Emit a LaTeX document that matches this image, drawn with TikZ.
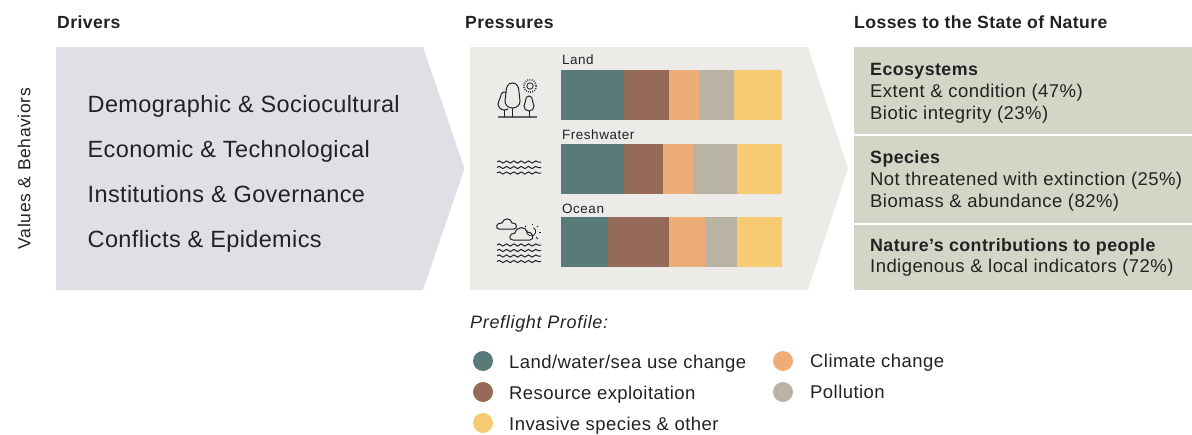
\documentclass[tikz,border=0pt]{standalone}
\usepackage{fontspec}
\setmainfont{Liberation Sans}
\usepackage{xcolor}
\definecolor{landuse}{HTML}{587B7A}
\definecolor{resource}{HTML}{966A58}
\definecolor{climate}{HTML}{EEAC78}
\definecolor{pollution}{HTML}{B9B3A3}
\definecolor{invasive}{HTML}{F6CB72}
\definecolor{driverbg}{HTML}{DFE0E5}
\definecolor{pressurebg}{HTML}{ECEBE7}
\definecolor{lossbg}{HTML}{D3D6C7}
\definecolor{ink}{HTML}{222222}
\usetikzlibrary{decorations.pathmorphing}
\newfontfamily\spacedA[LetterSpace=1.6]{Liberation Sans}
\newfontfamily\spacedB[LetterSpace=2.4]{Liberation Sans}
\newfontfamily\spacedC[LetterSpace=3.8]{Liberation Sans}
\tikzset{
  head/.style={anchor=base west,inner sep=0pt,text=ink,font=\fontsize{17.6}{20}\spacedB\bfseries},
  driver/.style={anchor=base west,inner sep=0pt,text=ink,font=\fontsize{23.5}{28}\spacedA},
  barlabel/.style={anchor=base west,inner sep=0pt,text=ink,font=\fontsize{13.5}{16}\spacedC},
  loss/.style={anchor=base west,inner sep=0pt,text=ink,font=\fontsize{18.5}{21}\spacedB},
  losshead/.style={anchor=base west,inner sep=0pt,text=ink,font=\fontsize{17.8}{21}\spacedB\bfseries},
  legend/.style={anchor=base west,inner sep=0pt,text=ink,font=\fontsize{18.5}{22}\spacedB},
  dot/.style={circle,inner sep=0pt,minimum size=20pt},
  icon/.style={color=ink,line width=1pt},
  wavy/.style={color=ink,line width=1pt,decorate,decoration={snake,segment length=7.3pt,amplitude=1.1pt}}
}
\begin{document}
\begin{tikzpicture}[x=1pt,y=-1pt]
\useasboundingbox (0,0) rectangle (1192,434);

\coordinate (d1) at (56,47);
\coordinate (d2) at (423,47);
\coordinate (d3) at (464.5,168.5);
\coordinate (d4) at (423,290);
\coordinate (d5) at (56,290);

\coordinate (p1) at (470,47);
\coordinate (p2) at (808,47);
\coordinate (p3) at (848,168.5);
\coordinate (p4) at (808,290);
\coordinate (p5) at (470,290);

  \fill[driverbg] (d1) -- (d2) -- (d3) -- (d4) -- (d5) -- cycle;
  \fill[pressurebg] (p1) -- (p2) -- (p3) -- (p4) -- (p5) -- cycle;

  \fill[lossbg] (854,47) rectangle (1192,134);
  \fill[lossbg] (854,136) rectangle (1192,223);
  \fill[lossbg] (854,225) rectangle (1192,290);

  \fill[landuse] (561,70) rectangle (624,120);
  \fill[resource] (624,70) rectangle (669,120);
  \fill[climate] (669,70) rectangle (699,120);
  \fill[pollution] (699,70) rectangle (734,120);
  \fill[invasive] (734,70) rectangle (782,120);

  \fill[landuse] (561,144) rectangle (624,194);
  \fill[resource] (624,144) rectangle (663,194);
  \fill[climate] (663,144) rectangle (693,194);
  \fill[pollution] (693,144) rectangle (737,194);
  \fill[invasive] (737,144) rectangle (782,194);

  \fill[landuse] (561,217) rectangle (608,267);
  \fill[resource] (608,217) rectangle (669,267);
  \fill[climate] (669,217) rectangle (705,267);
  \fill[pollution] (705,217) rectangle (737,267);
  \fill[invasive] (737,217) rectangle (782,267);

  \draw[icon,line width=1.5pt,color=ink!70] (498,117) -- (537,117);
  \draw[icon] (512.5,117) -- (512.5,108);
  \draw[icon] (504,117) -- (504,110);
  \draw[icon] (529,117) -- (529,111);
  \draw[icon] (512.5,83) .. controls (508,83) and (506,87) .. (506,92) .. controls (506,95) and (505,98) .. (505,101) .. controls (505,105) and (508,108) .. (512.5,108) .. controls (517,108) and (520,105) .. (520,101) .. controls (520,98) and (519,95) .. (519,92) .. controls (519,87) and (517,83) .. (512.5,83) -- cycle;
  \draw[icon] (506.5,93) .. controls (504,91) and (501,92) .. (500.5,97) .. controls (500,100) and (498,101) .. (498,104) .. controls (498,107) and (501,110) .. (504,110) .. controls (506,110) and (507,109.5) .. (508,109);
  \draw[icon] (529,96) .. controls (526.5,96) and (525.5,98) .. (525.5,101) .. controls (525.5,103) and (524,104) .. (524,106) .. controls (524,109) and (526,111) .. (529,111) .. controls (532,111) and (534,109) .. (534,106) .. controls (534,104) and (532.5,103) .. (532.5,101) .. controls (532.5,98) and (531.5,96) .. (529,96) -- cycle;
  \draw[icon,line width=0.8pt] (530,86) circle (3.2);
  \draw[icon,line width=1.6pt,dash pattern=on 0.8pt off 1.4pt] (530,86) circle (6.2);

  \draw[wavy] (497,162) -- (541,162);
  \draw[wavy] (497,167.5) -- (541,167.5);
  \draw[wavy] (497,173) -- (541,173);

  \draw[icon] (499,229) .. controls (495,229) and (496,222) .. (502,223) .. controls (504,217) and (511,218) .. (512,223) .. controls (517,222) and (518,229) .. (514,229) -- cycle;
  \draw[icon] (513,240) .. controls (508,240) and (509,233) .. (515,233) .. controls (517,226) and (526,226) .. (527,232) .. controls (533,231) and (535,240) .. (530,240) -- cycle;
  \draw[icon,line width=0.8pt] (527,230) arc (200:-60:4.5);
  \draw[icon,line width=0.8pt] (532,225) -- (532,224);
  \draw[icon,line width=0.8pt] (537,227) -- (538,226);
  \draw[icon,line width=0.8pt] (539,232.5) -- (541,232.5);
  \draw[icon,line width=0.8pt] (536,237) -- (538,239);
  \draw[icon,line width=0.8pt] (526,227) -- (525,226);

  \draw[wavy] (497,245) -- (541,245);
  \draw[wavy] (497,250.5) -- (541,250.5);
  \draw[wavy] (497,256) -- (541,256);
  \draw[wavy] (497,261.5) -- (541,261.5);

  \node (drivers) at (57,28) [head] {Drivers};
  \node (pressures) at (465,28) [head] {Pressures};
  \node (losses) at (854,28) [head] {Losses to the State of Nature};

  \node (values) at (30.5,168.5) [rotate=90,anchor=base,inner sep=0pt,text=ink,font=\fontsize{17.5}{20}\spacedC] {Values \& Behaviors};

  \node (demo) at (87.5,112) [driver] {Demographic \& Sociocultural};
  \node (econ) at (87.5,157) [driver] {Economic \& Technological};
  \node (inst) at (87.5,202) [driver] {Institutions \& Governance};
  \node (conf) at (87.5,247) [driver] {Conflicts \& Epidemics};

  \node (land) at (562,64) [barlabel] {Land};
  \node (fresh) at (562,139) [barlabel] {Freshwater};
  \node (ocean) at (562,213) [barlabel] {Ocean};

  \node (eco) at (870,75) [losshead] {Ecosystems};
  \node (extent) at (870,97) [loss] {Extent \& condition (47\%)};
  \node (biotic) at (870,119) [loss] {Biotic integrity (23\%)};
  \node (species) at (870,163) [losshead] {Species};
  \node (threat) at (870,185) [loss] {Not threatened with extinction (25\%)};
  \node (biomass) at (870,207) [loss] {Biomass \& abundance (82\%)};
  \node (ncp) at (870,251) [losshead] {Nature’s contributions to people};
  \node (indig) at (870,272) [loss] {Indigenous \& local indicators (72\%)};

  \node (profile) at (470,328) [legend,font=\fontsize{18}{22}\spacedC\itshape] {Preflight Profile:};

  \node (dot1) at (483,361) [dot,fill=landuse] {};
  \node (dot2) at (483,392) [dot,fill=resource] {};
  \node (dot3) at (483,423) [dot,fill=invasive] {};
  \node (dot4) at (783,361) [dot,fill=climate] {};
  \node (dot5) at (783,392) [dot,fill=pollution] {};

  \node (leg1) at (509,368) [legend] {Land/water/sea use change};
  \node (leg2) at (509,399) [legend] {Resource exploitation};
  \node (leg3) at (509,430) [legend] {Invasive species \& other};
  \node (leg4) at (810,367) [legend] {Climate change};
  \node (leg5) at (810,398) [legend] {Pollution};
\end{tikzpicture}
\end{document}
